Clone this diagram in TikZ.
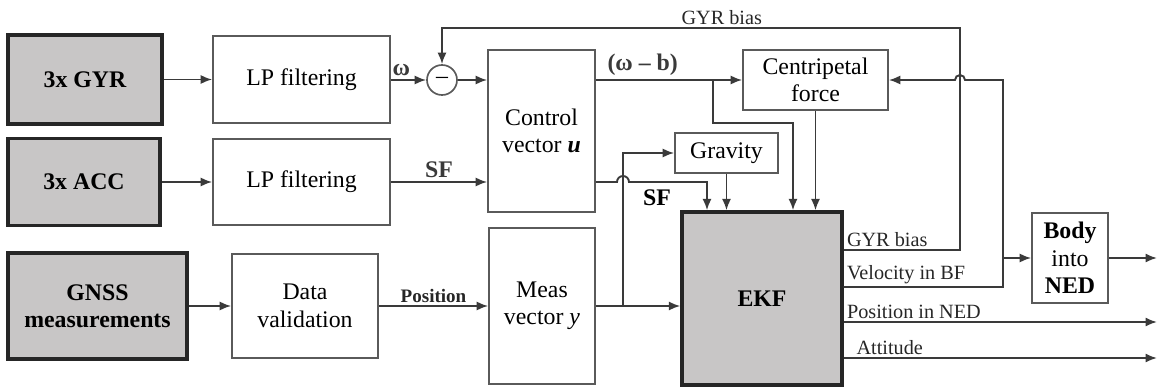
\documentclass[tikz,border=0pt]{standalone}
\usepackage{fontspec}
\setmainfont{Liberation Serif}
\usetikzlibrary{arrows.meta, calc}
\definecolor{boxgray}{HTML}{C8C6C6}
\definecolor{linegray}{HTML}{3A3A3A}
\definecolor{edgegray}{HTML}{5A5A5A}
\newlength\pxu
\setlength\pxu{0.42pt}

\begin{document}
\begin{tikzpicture}[x=0.42pt, y=-0.42pt,
  block/.style={draw=edgegray, line width=0.7pt, fill=white, align=center,
    inner sep=0pt, font=\fontsize{10}{11.5}\selectfont},
  sensor/.style={block, draw=black!85, line width=1.4pt, fill=boxgray,
    font=\bfseries\fontsize{10}{11.5}\selectfont},
  boxsize/.style 2 args={minimum width=#1*\pxu, minimum height=#2*\pxu},
  arrow/.style={-{Latex[length=4.8pt,width=3.8pt]}, line width=0.8pt, linegray},
  label/.style={font=\fontsize{8.5}{10}\selectfont, text=black!85, inner sep=1pt},
  signal/.style={font=\bfseries\fontsize{10}{11}\selectfont, inner sep=1.5pt}
]
\useasboundingbox (0,0) rectangle (1159,388);

% sensors and pre-processing
\node[sensor, boxsize={154}{89}] (gyr) at (85,79.5) {3x GYR};
\node[block, boxsize={177}{87}] (lpgyr) at (301.5,79.5) {LP filtering};
\node[sensor, boxsize={152}{87}] (acc) at (84,182) {3x ACC};
\node[block, boxsize={177}{86}] (lpacc) at (301.5,182) {LP filtering};
\node[sensor, boxsize={179}{106}] (gnss) at (97.5,306) {GNSS\\measurements};
\node[block, boxsize={146}{104}] (valid) at (305,306) {Data\\validation};
\node[circle, draw=edgegray, line width=0.7pt, minimum size=30*\pxu,
  inner sep=0pt, font=\fontsize{10}{11}\selectfont] (diff) at (442,80) {--};

% vectors and models
\node[block, boxsize={107}{162}] (ctrl) at (541.5,131) {Control\\vector \textit{\textbf{u}}};
\node[block, boxsize={106}{156}] (meas) at (542,306) {Meas\\vector \textit{y}};
\node[block, boxsize={103}{40}] (grav) at (726.5,153) {Gravity};
\node[block, boxsize={145}{60}] (centr) at (815.5,80) {Centripetal\\force};
\node[sensor, boxsize={160}{173}] (ekf) at (762,298.5) {EKF};
\node[block, boxsize={76}{90}] (body) at (1070,258) {\textbf{Body}\\into\\\textbf{NED}};

% bend and branch points
\coordinate (tapw) at (713,80);
\coordinate (tapwd) at (713,123);
\coordinate (tapwr) at (793,123);
\coordinate (sfout) at (707,182);
\coordinate (tapy) at (623,306);
\coordinate (tapyup) at (623,153);
\coordinate (biasr) at (960,250);
\coordinate (biast) at (960,28);
\coordinate (biasl) at (442,28);
\coordinate (velr) at (1003,287);
\coordinate (velt) at (1003,80);
\coordinate (velbody) at (1003,258);
\coordinate (outbody) at (1157,258);
\coordinate (outpos) at (1157,322);
\coordinate (outatt) at (1157,358);

% inputs
\draw[arrow] (gyr) -- (lpgyr);
\draw[arrow] (acc) -- (lpacc);
\draw[arrow] (gnss) -- (valid);
\draw[arrow] (lpgyr.east |- diff) -- node[signal, above, pos=0.3] {ω} (diff.west);
\draw[arrow] (diff) -- (diff -| ctrl.west);
\draw[arrow] (lpacc.east) -- node[signal, above] {SF} (lpacc.east -| ctrl.west);
\draw[arrow] (valid) -- node[label, above, font=\bfseries\fontsize{8}{10}\selectfont] {Position} (valid -| meas.west);

% into the filter
\draw[arrow] (ctrl.east |- diff) -- node[signal, above, pos=0.32] {(ω – b)} (centr.west);
\draw[arrow] (tapw) -- (tapwd) -- (tapwr) -- (tapwr |- ekf.north);
\draw[arrow] (ctrl.east |- sfout) -- ($(tapy |- sfout)+(-6,0)$) arc (180:360:6)
  -- (sfout) -- (sfout |- ekf.north);
\node[signal] (sflabel) at (657,198) {SF};
\draw[arrow] (meas) -- (meas -| ekf.west);
\draw[arrow] (tapy) -- (tapyup) -- (grav.west);
\draw[arrow] (grav.south) -- (grav.south |- ekf.north);
\draw[arrow] (centr.south) -- (centr.south |- ekf.north);

% outputs and feedback
\draw[arrow] (ekf.east |- biasr) -- node[label, above right, pos=0] {GYR bias} (biasr)
  -- (biast) -- node[label, above, pos=0.46] {GYR bias} (biasl) -- (diff.north);
\draw[arrow] (ekf.east |- velr) -- node[label, above right, pos=0] {Velocity in BF} (velr)
  -- (velt) -- ($(biast |- velt)+(5,0)$) arc (360:180:5) -- (centr.east);
\draw[arrow] (velbody) -- (body.west);
\draw[arrow] (body.east) -- (outbody);
\draw[arrow] (ekf.east |- outpos) -- node[label, above right, pos=0] {Position in NED} (outpos);
\draw[arrow] (ekf.east |- outatt) -- node[label, above right, pos=0, xshift=4pt] {Attitude} (outatt);

\end{tikzpicture}
\end{document}
